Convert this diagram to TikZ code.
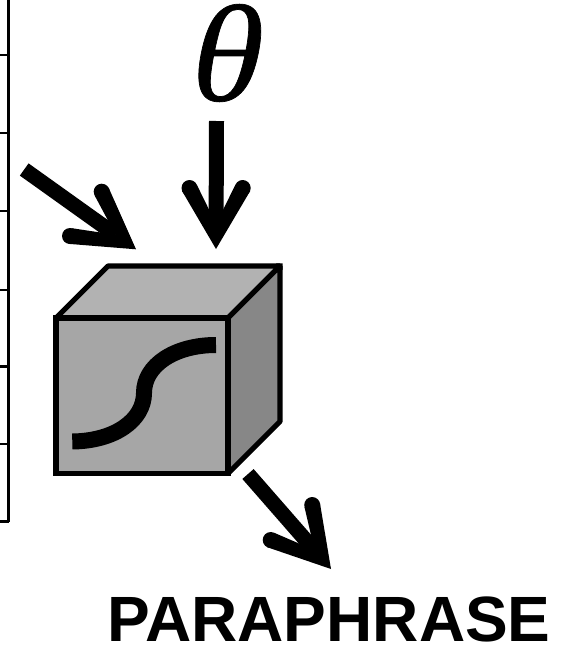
\documentclass[tikz,border=0pt]{standalone}
\usepackage{fontspec}
\setmainfont{Liberation Sans}
\newfontfamily\thetafont[FakeSlant=0.2,FakeBold=0.5,FakeStretch=1.06]{Liberation Serif}
\usetikzlibrary{calc}
\tikzset{
  tableline/.style={line width=2.7pt,black},
  cubeedge/.style={line width=5.2pt,draw=black},
  curveline/.style={line width=16pt,black},
  shaftline/.style={line width=15pt,black},
}
\newcommand{\bigarrow}[4]{%
  \coordinate (T) at #1; \coordinate (H) at #2; \coordinate (L) at #3; \coordinate (R) at #4;
  \coordinate (J) at ($(H)!25pt!(T)$);
  \draw[shaftline] (T) -- (J);
  \fill[black] (L) circle (8pt) (R) circle (8pt);
  \fill[black] (H) -- ($(L)!8pt!-90:(H)$) -- ($(L)!8pt!90:(H)$) -- (J)
     -- ($(R)!8pt!-90:(H)$) -- ($(R)!8pt!90:(H)$) -- cycle;
}
\begin{document}
\begin{tikzpicture}[x=1pt,y=-1pt]
\useasboundingbox (0,0) rectangle (561,645);
\fill[white] (0,0) rectangle (561,645);
% table edge
\coordinate (tabtop) at (8.7,0);
\coordinate (tabbot) at (8.7,521.5);
\draw[tableline] (tabtop) -- (tabbot);
\foreach \y in {55,133,211,290,366.5,444,521.5}
  \draw[tableline] (0,\y) -- (8.7,\y);
% cube
\coordinate (fa) at (56,318); \coordinate (fb) at (228,318);
\coordinate (fc) at (228,473.5); \coordinate (fd) at (56,473.5);
\coordinate (ba) at (108,266); \coordinate (bb) at (280,266); \coordinate (bc) at (280,421.5);
\filldraw[cubeedge,line join=bevel,fill=black!30] (fa) -- (ba) -- (bb) -- (fb) -- cycle;
\filldraw[cubeedge,line join=bevel,fill=black!47] (fb) -- (bb) -- (bc) -- (fc) -- cycle;
\filldraw[cubeedge,line join=miter,fill=black!35] (fa) -- (fb) -- (fc) -- (fd) -- cycle;
\fill[black] (276,263.4) -- (282.6,263.4) -- (282.6,270) -- cycle;
\coordinate (sa) at (72.3,441.5); \coordinate (sm) at (144,393); \coordinate (sb) at (216,345);
\draw[curveline] (sa) .. controls (115,441) and (144,420) .. (sm) .. controls (144,365) and (175,345) .. (sb);
% arrows
\bigarrow{(24.2,169.5)}{(136,249.3)}{(70,236)}{(101.7,191.7)}
\bigarrow{(216.5,121)}{(216,249)}{(189.5,188)}{(242.7,188)}
\bigarrow{(248,474)}{(331,569)}{(270.7,540)}{(312.2,505)}
% labels
\node[inner sep=0pt] (theta) at (220,53) {\thetafont\fontsize{138}{138}\selectfont θ};
\node[inner sep=0pt] (para) at (329,619.5) {\fontsize{64}{64}\selectfont\bfseries PARAPHRASE};
\end{tikzpicture}
\end{document}
